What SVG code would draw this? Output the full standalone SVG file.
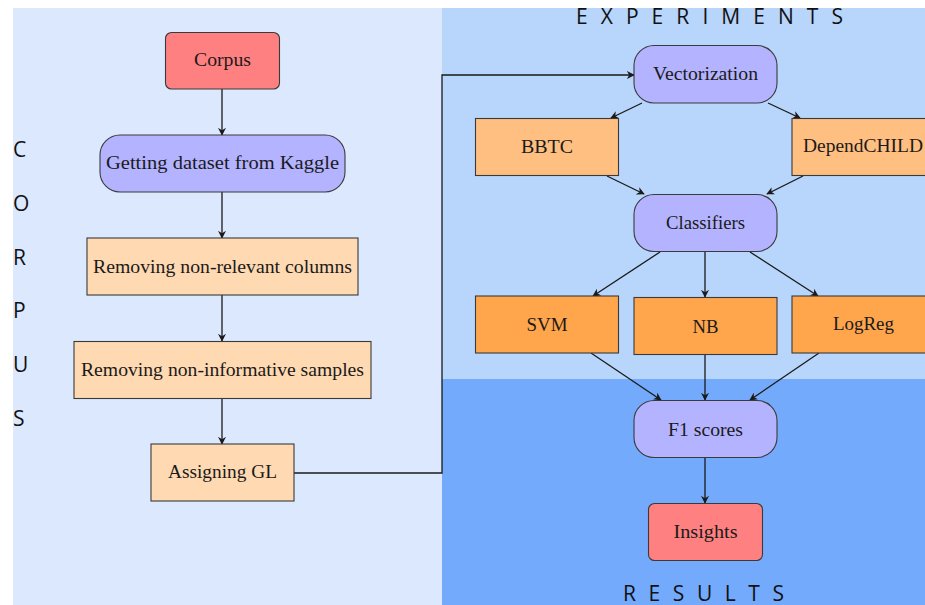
<svg xmlns="http://www.w3.org/2000/svg" width="925" height="605" viewBox="0 0 925 605">
<style>
.n{stroke:#3a3a3a;stroke-width:1.1}
.red{fill:#ff8080}
.pur{fill:#b3b3ff}
.pch{fill:#ffd9b2}
.lor{fill:#ffbf80}
.org{fill:#ffa64d}
.t{font-family:"Liberation Serif","DejaVu Serif",serif;font-size:18.5px;fill:#1a1a1a;text-anchor:middle}
.side{font-family:"Open Sans","Noto Sans",sans-serif;font-size:21px;fill:#111}
.c{fill:none;stroke:#1a1a1a;stroke-width:1.3;marker-end:url(#ah)}
</style>
<defs>
<marker id="ah" viewBox="0 0 10 10" refX="9" refY="5" markerWidth="8" markerHeight="8" markerUnits="userSpaceOnUse" orient="auto">
<path d="M0,0 L10,5 L0,10 L3,5 Z" fill="#1a1a1a"/>
</marker>
</defs>
<rect x="0" y="0" width="925" height="605" fill="#ffffff"/>
<rect x="13" y="8" width="429" height="597" fill="#dce8fe"/>
<rect x="442" y="8" width="483" height="371" fill="#b8d5fb"/>
<rect x="442" y="379" width="483" height="226" fill="#74aafb"/>
<g id="labels">
<text class="side" x="13" y="157">C</text>
<text class="side" x="13" y="211">O</text>
<text class="side" x="13" y="265">R</text>
<text class="side" x="13" y="318">P</text>
<text class="side" x="13" y="372">U</text>
<text class="side" x="13" y="426">S</text>
<text class="side" x="576" y="24" textLength="267" lengthAdjust="spacing">E X P E R I M E N T S</text>
<text class="side" x="623" y="601" textLength="161" lengthAdjust="spacing">R E S U L T S</text>
</g>
<g id="connectors">
<path class="c" d="M222,89 V135"/>
<path class="c" d="M222,192 V238"/>
<path class="c" d="M222,295 V341"/>
<path class="c" d="M222,399 V444"/>
<path class="c" d="M294,473 H442 V75 H634"/>
<path class="c" d="M642,103 L611,118"/>
<path class="c" d="M768,103 L800,118"/>
<path class="c" d="M607,176 L644,194"/>
<path class="c" d="M803,176 L767,194"/>
<path class="c" d="M660,252 L593,296"/>
<path class="c" d="M705,252 V297"/>
<path class="c" d="M750,252 L818,296"/>
<path class="c" d="M591,353 L661,400"/>
<path class="c" d="M705,355 V400"/>
<path class="c" d="M819,353 L750,400"/>
<path class="c" d="M705,457 V503"/>
</g>
<g id="corpus"><rect class="n red" x="165.5" y="32.5" width="114" height="56.5" rx="6"/><text class="t" x="222.5" y="66" textLength="57" lengthAdjust="spacingAndGlyphs">Corpus</text></g>
<g id="kaggle"><rect class="n pur" x="100" y="135" width="245" height="57" rx="20"/><text class="t" x="222.5" y="169" textLength="233" lengthAdjust="spacingAndGlyphs">Getting dataset from Kaggle</text></g>
<g id="cols"><rect class="n pch" x="87" y="238" width="271" height="57"/><text class="t" x="222.5" y="272.5" textLength="259" lengthAdjust="spacingAndGlyphs">Removing non-relevant columns</text></g>
<g id="samples"><rect class="n pch" x="74" y="341.5" width="297" height="57"/><text class="t" x="222.5" y="375.5" textLength="283" lengthAdjust="spacingAndGlyphs">Removing non-informative samples</text></g>
<g id="assign"><rect class="n pch" x="151" y="444" width="143" height="57"/><text class="t" x="222.5" y="478" textLength="109" lengthAdjust="spacingAndGlyphs">Assigning GL</text></g>
<g id="vector"><rect class="n pur" x="634" y="45.5" width="143" height="57.5" rx="20"/><text class="t" x="705.5" y="80" textLength="105" lengthAdjust="spacingAndGlyphs">Vectorization</text></g>
<g id="bbtc"><rect class="n lor" x="475.5" y="118.5" width="143" height="57"/><text class="t" x="547" y="153" textLength="52" lengthAdjust="spacingAndGlyphs">BBTC</text></g>
<g id="depend"><rect class="n lor" x="792" y="118.5" width="143" height="57"/><text class="t" x="863" y="152" textLength="120" lengthAdjust="spacingAndGlyphs">DependCHILD</text></g>
<g id="classifiers"><rect class="n pur" x="634" y="194.5" width="143" height="57" rx="20"/><text class="t" x="705.5" y="229" textLength="79" lengthAdjust="spacingAndGlyphs">Classifiers</text></g>
<g id="svm"><rect class="n org" x="475.5" y="296" width="143" height="57"/><text class="t" x="547" y="331" textLength="41" lengthAdjust="spacingAndGlyphs">SVM</text></g>
<g id="nb"><rect class="n org" x="634" y="297.5" width="143" height="57"/><text class="t" x="705.5" y="332.5" textLength="26" lengthAdjust="spacingAndGlyphs">NB</text></g>
<g id="logreg"><rect class="n org" x="792" y="296" width="143" height="57"/><text class="t" x="863.5" y="330" textLength="61" lengthAdjust="spacingAndGlyphs">LogReg</text></g>
<g id="f1"><rect class="n pur" x="634" y="400.5" width="143" height="57" rx="20"/><text class="t" x="705.5" y="436" textLength="75" lengthAdjust="spacingAndGlyphs">F1 scores</text></g>
<g id="insights"><rect class="n red" x="648.5" y="503.5" width="114" height="57" rx="6"/><text class="t" x="705.5" y="537.5" textLength="64" lengthAdjust="spacingAndGlyphs">Insights</text></g>
</svg>
